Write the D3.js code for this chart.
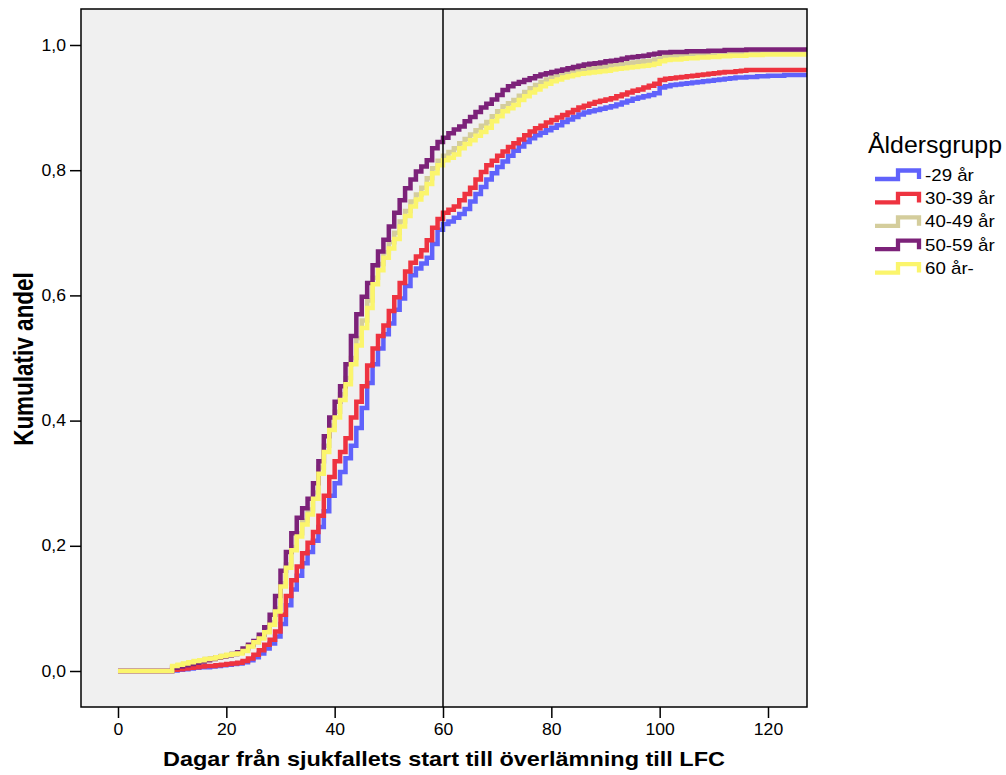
<!DOCTYPE html>
<html>
<head>
<meta charset="utf-8">
<script src="https://cdn.jsdelivr.net/npm/d3@7"></script>
<style>
  body { margin: 0; background: #fff; }
  text { font-family: "Liberation Sans", Arial, sans-serif; }
</style>
</head>
<body>
<svg id="chart" width="1006" height="775"></svg>
<script>
// Kumulativ andel per dag (dag 0 .. 128)
var groups = ['-29 år', '30-39 år', '40-49 år', '50-59 år', '60 år-'];
var colors = ['#6062fb', '#ee3340', '#d4cd9c', '#7c2279', '#fbf56c'];

var xTicks = [0, 20, 40, 60, 80, 100, 120];
var yTicks = [0, 0.2, 0.4, 0.6, 0.8, 1.0];
var yTickLabels = ['0,0', '0,2', '0,4', '0,6', '0,8', '1,0'];
var refDay = 60;

var blue = [0,0,0,0,0,0,0,0,0,0,
  0.001,0.002,0.003,0.004,0.005,0.006,0.006,0.007,0.008,0.009,
  0.010,0.011,0.012,0.014,0.017,0.022,0.028,0.036,0.044,0.055,
  0.075,0.105,0.130,0.152,0.172,0.190,0.208,0.230,0.255,0.280,
  0.300,0.318,0.340,0.360,0.388,0.420,0.460,0.490,0.515,0.538,
  0.555,0.577,0.595,0.615,0.632,0.643,0.651,0.660,0.682,0.705,
  0.714,0.718,0.724,0.730,0.738,0.750,0.762,0.773,0.785,0.795,
  0.805,0.814,0.823,0.831,0.838,0.845,0.851,0.856,0.860,0.864,
  0.868,0.872,0.877,0.881,0.885,0.889,0.892,0.894,0.896,0.898,
  0.900,0.902,0.905,0.908,0.911,0.914,0.916,0.918,0.920,0.923,
  0.932,0.934,0.936,0.937,0.938,0.939,0.940,0.941,0.942,0.943,
  0.944,0.945,0.946,0.947,0.948,0.948,0.949,0.949,0.950,0.950,
  0.951,0.951,0.951,0.952,0.952,0.952,0.952,0.952,0.952];

var red = [0,0,0,0,0,0,0,0,0,0,
  0.002,0.003,0.004,0.005,0.006,0.007,0.008,0.008,0.009,0.010,
  0.011,0.012,0.013,0.016,0.020,0.026,0.033,0.042,0.050,0.063,
  0.090,0.120,0.145,0.167,0.188,0.205,0.222,0.248,0.280,0.310,
  0.335,0.350,0.372,0.405,0.430,0.455,0.488,0.515,0.535,0.552,
  0.575,0.597,0.620,0.638,0.652,0.662,0.672,0.688,0.708,0.722,
  0.732,0.737,0.742,0.752,0.762,0.772,0.785,0.797,0.808,0.815,
  0.823,0.830,0.837,0.843,0.849,0.856,0.862,0.867,0.871,0.876,
  0.880,0.884,0.888,0.892,0.896,0.900,0.903,0.906,0.909,0.911,
  0.913,0.915,0.918,0.921,0.924,0.927,0.929,0.932,0.935,0.938,
  0.944,0.946,0.947,0.948,0.949,0.950,0.951,0.952,0.953,0.954,
  0.955,0.956,0.957,0.957,0.958,0.959,0.960,0.960,0.960,0.960,
  0.960,0.960,0.960,0.960,0.960,0.960,0.960,0.960,0.960];

var tan = [0,0,0,0,0,0,0,0,0,0,
  0.007,0.009,0.011,0.013,0.015,0.017,0.019,0.020,0.022,0.024,
  0.025,0.027,0.029,0.033,0.040,0.046,0.054,0.064,0.078,0.100,
  0.140,0.170,0.198,0.220,0.240,0.258,0.285,0.325,0.360,0.392,
  0.414,0.442,0.468,0.500,0.532,0.560,0.592,0.628,0.650,0.669,
  0.685,0.700,0.718,0.735,0.750,0.761,0.772,0.787,0.803,0.815,
  0.823,0.829,0.835,0.843,0.850,0.857,0.864,0.871,0.877,0.886,
  0.894,0.902,0.907,0.912,0.919,0.925,0.931,0.936,0.941,0.945,
  0.949,0.952,0.955,0.957,0.959,0.961,0.962,0.963,0.964,0.965,
  0.966,0.968,0.969,0.970,0.971,0.972,0.973,0.974,0.975,0.977,
  0.980,0.982,0.983,0.983,0.984,0.984,0.985,0.985,0.985,0.986,
  0.986,0.986,0.987,0.987,0.987,0.987,0.988,0.988,0.988,0.988,
  0.988,0.988,0.988,0.988,0.988,0.988,0.988,0.988,0.988];

var purple = [0,0,0,0,0,0,0,0,0,0,
  0.005,0.007,0.009,0.011,0.013,0.015,0.017,0.019,0.021,0.023,
  0.025,0.027,0.030,0.036,0.042,0.048,0.058,0.070,0.090,0.120,
  0.160,0.190,0.220,0.245,0.260,0.275,0.300,0.335,0.375,0.405,
  0.430,0.455,0.490,0.535,0.570,0.598,0.620,0.648,0.670,0.689,
  0.710,0.732,0.752,0.771,0.785,0.798,0.806,0.816,0.835,0.845,
  0.852,0.859,0.865,0.870,0.878,0.885,0.893,0.900,0.906,0.913,
  0.920,0.928,0.934,0.938,0.941,0.944,0.947,0.950,0.953,0.955,
  0.957,0.959,0.961,0.963,0.965,0.967,0.969,0.970,0.971,0.972,
  0.974,0.975,0.976,0.978,0.980,0.981,0.982,0.983,0.985,0.986,
  0.988,0.988,0.989,0.989,0.989,0.990,0.990,0.990,0.990,0.991,
  0.991,0.991,0.992,0.992,0.992,0.992,0.993,0.993,0.993,0.993,
  0.993,0.993,0.993,0.993,0.993,0.993,0.993,0.993,0.993];

var yellow = [0,0,0,0,0,0,0,0,0,0,
  0.008,0.010,0.012,0.014,0.016,0.017,0.019,0.020,0.022,0.024,
  0.026,0.027,0.028,0.032,0.039,0.046,0.052,0.062,0.074,0.095,
  0.135,0.165,0.193,0.215,0.234,0.250,0.275,0.315,0.350,0.385,
  0.405,0.433,0.458,0.490,0.520,0.548,0.580,0.618,0.640,0.660,
  0.675,0.690,0.710,0.727,0.742,0.753,0.763,0.778,0.795,0.808,
  0.816,0.820,0.825,0.835,0.842,0.848,0.855,0.861,0.868,0.878,
  0.886,0.894,0.899,0.904,0.912,0.918,0.924,0.929,0.934,0.938,
  0.942,0.945,0.948,0.950,0.952,0.954,0.955,0.956,0.957,0.958,
  0.959,0.961,0.962,0.963,0.964,0.965,0.966,0.967,0.968,0.970,
  0.974,0.976,0.977,0.977,0.978,0.979,0.979,0.980,0.980,0.981,
  0.981,0.982,0.982,0.983,0.983,0.983,0.984,0.984,0.984,0.985,
  0.985,0.985,0.985,0.985,0.985,0.985,0.985,0.985,0.985];

var series = [blue, red, tan, purple, yellow];

var svg = d3.select('#chart'),
    plot = {left: 81, top: 9, right: 807, bottom: 707};

var x = d3.scaleLinear().domain([-6.83, 127.2]).range([plot.left, plot.right]),
    y = d3.scaleLinear().domain([-0.0575, 1.0575]).range([plot.bottom, plot.top]);

// the source text is a little wider than Liberation Sans, so stretch along the baseline
var stretch = function(sel, k) {
    sel.each(function() {
        var len = this.getComputedTextLength();
        d3.select(this).attr('textLength', len * k).attr('lengthAdjust', 'spacingAndGlyphs');
    });
};

svg.append('rect').attr('width', 1006).attr('height', 775).attr('fill', '#fff');

svg.append('rect')
    .attr('x', plot.left).attr('y', plot.top)
    .attr('width', plot.right - plot.left).attr('height', plot.bottom - plot.top)
    .attr('fill', '#f0f0f0');

svg.append('clipPath').attr('id', 'clip')
  .append('rect')
    .attr('x', plot.left).attr('y', plot.top)
    .attr('width', plot.right - plot.left).attr('height', plot.bottom - plot.top);

var line = d3.line()
    .x(function(d, i) { return x(i); })
    .y(function(d) { return y(d); })
    .curve(d3.curveStepAfter);

svg.append('g').attr('clip-path', 'url(#clip)')
  .selectAll('path')
  .data(series)
  .enter().append('path')
    .attr('d', line)
    .attr('fill', 'none')
    .attr('stroke', function(d, i) { return colors[i]; })
    .attr('stroke-width', 4.5);

// referenslinje vid dag 60
svg.append('line')
    .attr('x1', x(refDay)).attr('x2', x(refDay))
    .attr('y1', plot.top).attr('y2', plot.bottom)
    .attr('stroke', '#000').attr('stroke-width', 1.5);

svg.append('rect')
    .attr('x', plot.left).attr('y', plot.top)
    .attr('width', plot.right - plot.left).attr('height', plot.bottom - plot.top)
    .attr('fill', 'none').attr('stroke', '#000').attr('stroke-width', 1.5);

// axlar
var xAxis = svg.append('g')
    .attr('transform', 'translate(0,' + plot.bottom + ')')
    .call(d3.axisBottom(x).tickValues(xTicks).tickSize(11).tickPadding(6).tickFormat(d3.format('d')));

var yAxis = svg.append('g')
    .attr('transform', 'translate(' + plot.left + ',0)')
    .call(d3.axisLeft(y).tickValues(yTicks).tickSize(11).tickPadding(4)
      .tickFormat(function(d, i) { return yTickLabels[i]; }));

[xAxis, yAxis].forEach(function(g) {
    g.select('.domain').remove();
    g.selectAll('.tick line').attr('stroke', '#000').attr('stroke-width', 1.5);
    g.selectAll('.tick text')
        .attr('fill', '#000')
        .style('font-family', '"Liberation Sans", Arial, sans-serif')
        .style('font-size', '16px')
        .call(stretch, 1.1);
});

svg.append('text')
    .attr('x', 444).attr('y', 766)
    .attr('text-anchor', 'middle')
    .style('font-size', '20.5px').style('font-weight', 'bold')
    .text('Dagar från sjukfallets start till överlämning till LFC')
    .attr('textLength', 562).attr('lengthAdjust', 'spacingAndGlyphs');

svg.append('text')
    .attr('transform', 'translate(33,359) rotate(-90) scale(1,1.2)')
    .attr('text-anchor', 'middle')
    .style('font-size', '22.5px').style('font-weight', 'bold')
    .text('Kumulativ andel');

// legend
var legend = svg.append('g').attr('transform', 'translate(868,0)');

legend.append('text')
    .attr('x', 0).attr('y', 153)
    .style('font-size', '24px')
    .text('Åldersgrupp')
    .attr('textLength', 134).attr('lengthAdjust', 'spacingAndGlyphs');

var item = legend.selectAll('.item')
    .data(groups)
  .enter().append('g')
    .attr('class', 'item')
    .attr('transform', function(d, i) { return 'translate(0,' + (180.5 + i * 23.4) + ')'; });

item.append('path')
    .attr('d', 'M7,-1.5H30V-10H51V-1.5')
    .attr('fill', 'none')
    .attr('stroke', function(d, i) { return colors[i]; })
    .attr('stroke-width', 4.3);

item.append('text')
    .attr('x', 57).attr('y', 0)
    .style('font-size', '17px')
    .text(function(d) { return d; })
    .call(stretch, 1.1);
</script>
</body>
</html>
